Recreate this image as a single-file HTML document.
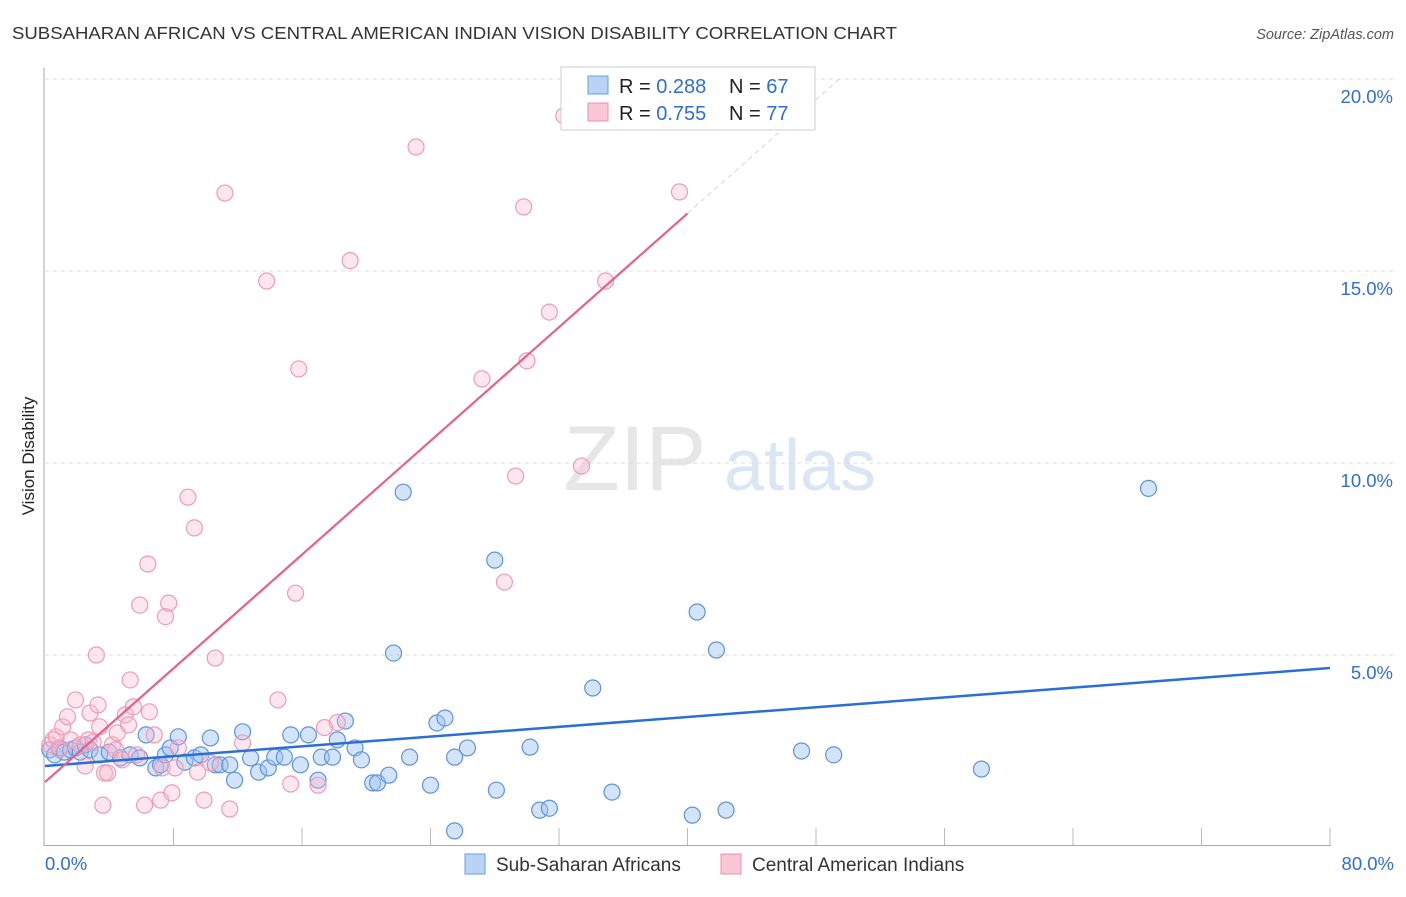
<!DOCTYPE html>
<html><head><meta charset="utf-8"><style>
body{margin:0;background:#fff;font-family:"Liberation Sans",sans-serif;}
svg text{font-family:"Liberation Sans",sans-serif;}
</style></head><body>
<svg id="chart" width="1406" height="892">
<text x="12" y="39" font-size="17.5" fill="#333" textLength="885" lengthAdjust="spacingAndGlyphs">SUBSAHARAN AFRICAN VS CENTRAL AMERICAN INDIAN VISION DISABILITY CORRELATION CHART</text>
<text x="1394" y="39" font-size="14.5" fill="#555" text-anchor="end" font-style="italic">Source: ZipAtlas.com</text>
<text x="34" y="456" font-size="17" fill="#222" text-anchor="middle" transform="rotate(-90 34 456)">Vision Disability</text>
<g><text x="635" y="490" font-size="92" fill="#e6e6e6" text-anchor="middle" font-family="Liberation Serif">ZIP</text><text x="800" y="490" font-size="72" fill="#dbe6f5" text-anchor="middle">atlas</text></g>
<g id="grid"></g><g id="axes"></g><g id="pts"></g><g id="lines"></g>
<g>
<rect x="561" y="67" width="254" height="63" fill="#fff" stroke="#ccc"/>
<rect x="588" y="76" width="20" height="18" fill="#b9d3f5" stroke="#6a9ee0"/>
<text x="619" y="93" font-size="20" fill="#222">R = <tspan fill="#2f6fd1">0.288</tspan></text>
<text x="729" y="93" font-size="20" fill="#222">N = <tspan fill="#2f6fd1">67</tspan></text>
<rect x="588" y="103" width="20" height="18" fill="#f9c6d6" stroke="#ec8fae"/>
<text x="619" y="120" font-size="20" fill="#222">R = <tspan fill="#2f6fd1">0.755</tspan></text>
<text x="729" y="120" font-size="20" fill="#222">N = <tspan fill="#2f6fd1">77</tspan></text>
</g>
<g>
<rect x="465" y="854" width="20" height="20" fill="#b9d3f5" stroke="#6a9ee0"/>
<text x="496" y="871" font-size="19" fill="#333">Sub-Saharan Africans</text>
<rect x="721" y="854" width="20" height="20" fill="#f9c6d6" stroke="#ec8fae"/>
<text x="752" y="871" font-size="19" fill="#333">Central American Indians</text>
</g>
</svg>
<script>
const yTicks=[5,10,15,20];
const xTickLabels=["0.0%","80.0%"];
const blueX=[0.3,0.6,0.9,1.2,1.6,1.9,2.2,2.5,2.8,3.4,4.0,4.7,5.3,5.9,6.3,6.9,7.2,7.5,7.8,8.3,8.7,9.3,9.7,10.3,10.6,10.9,11.5,11.8,12.3,12.8,13.3,13.9,14.3,14.9,15.3,15.9,16.4,17.0,17.2,17.9,18.2,18.7,19.3,19.7,20.4,20.7,21.4,21.7,22.3,22.7,24.0,24.4,24.9,25.5,25.5,26.3,28.0,28.1,30.2,30.8,31.4,34.1,35.3,40.3,40.6,41.8,42.4,47.1,49.1,58.3,68.7];
const blueY=[2.53,2.40,2.58,2.47,2.53,2.58,2.47,2.66,2.53,2.40,2.47,2.32,2.40,2.32,2.92,2.06,2.14,2.40,2.58,2.87,2.21,2.32,2.40,2.84,2.14,2.14,2.14,1.74,3.00,2.32,1.95,2.06,2.34,2.34,2.92,2.14,2.92,1.74,2.34,2.34,2.79,3.28,2.58,2.27,1.67,1.67,1.87,5.05,9.24,2.34,1.61,3.23,3.36,0.42,2.34,2.58,7.47,1.48,2.60,0.96,1.01,4.14,1.43,0.83,6.12,5.13,0.96,2.50,2.40,2.03,9.34];
const pinkX=[0.3,0.5,0.7,0.9,1.1,1.4,1.6,1.9,2.2,2.5,2.7,2.8,3.0,3.2,3.3,3.4,3.6,3.7,3.9,4.2,4.4,4.5,4.8,5.0,5.2,5.3,5.5,5.7,5.9,6.2,6.4,6.5,6.8,7.2,7.3,7.5,7.7,7.9,8.1,8.3,8.9,9.3,9.5,9.9,10.3,10.6,11.2,11.5,12.3,13.8,14.5,15.3,15.6,15.8,17.0,17.4,18.2,19.0,23.1,27.2,28.6,29.3,29.8,30.0,31.4,32.3,33.4,34.9,39.5];
const pinkY=[2.66,2.79,2.87,2.53,3.13,3.39,2.79,3.83,2.66,2.11,2.79,3.49,2.73,5.00,3.70,3.13,1.09,1.93,1.93,2.66,2.53,2.97,2.27,3.44,3.18,4.35,3.65,2.40,6.30,1.09,7.37,3.52,2.92,1.22,2.06,6.00,6.35,1.41,2.06,2.58,9.11,8.31,1.95,1.22,2.19,4.92,17.03,0.99,2.71,14.74,3.83,1.64,6.61,12.45,1.61,3.11,3.24,15.27,18.23,12.19,6.90,9.66,16.67,12.66,13.93,19.04,9.92,14.74,17.06];
const blueFit=[2.11,4.66];
const pinkFit=[1.69,16.5];
const X0=45,X1=1330,Y0=847,PPY=38.4;
const sx=v=>X0+v*(X1-X0)/80, sy=v=>Y0-v*PPY;
const NS="http://www.w3.org/2000/svg";
function mk(t,a,p){const e=document.createElementNS(NS,t);for(const k in a)e.setAttribute(k,a[k]);p.appendChild(e);return e;}
const grid=document.getElementById('grid'),axes=document.getElementById('axes'),pts=document.getElementById('pts'),lines=document.getElementById('lines');
yTicks.forEach(t=>{
 const l=mk('line',{x1:45,x2:1394,y1:sy(t),y2:sy(t),stroke:'#ddd','stroke-dasharray':'4,4'},grid);
 
 
 const tx=mk('text',{x:1393,y:sy(t)+24,'font-size':18.5,fill:'#2f6fd1','text-anchor':'end'},axes);
 tx.textContent=t.toFixed(1)+'%';
 
 
});
const ya=mk('line',{x1:44,x2:44,y1:68,y2:846,stroke:'#aaa'},axes);


const xa=mk('line',{x1:44,x2:1331,y1:845.5,y2:845.5,stroke:'#aaa'},axes);


for(let i=1;i<=10;i++){const l=mk('line',{x1:sx(i*8),x2:sx(i*8),y1:828,y2:845,stroke:'#bbb'},axes);
 
 }
[[0,'start',45],[80,'end',1394]].forEach((d,i)=>{const t=mk('text',{x:d[2],y:870,'font-size':18.5,fill:'#2f6fd1','text-anchor':d[1]},axes);t.textContent=xTickLabels[i];
 
 });
blueX.forEach((x,i)=>{const c=mk('circle',{cx:sx(x),cy:sy(blueY[i]),r:8,fill:'rgba(160,196,240,0.45)',stroke:'#5c93dd','stroke-width':1.2},pts);
 
 });
pinkX.forEach((x,i)=>{const c=mk('circle',{cx:sx(x),cy:sy(pinkY[i]),r:8,fill:'rgba(248,184,204,0.35)',stroke:'#ef9bb7','stroke-width':1.2},pts);
 
 });
const bl=mk('line',{x1:sx(0),y1:sy(blueFit[0]),x2:sx(80),y2:sy(blueFit[1]),stroke:'#2a6fd6','stroke-width':2.5},lines);


const slope=(pinkFit[1]-pinkFit[0])/40;
const pl=mk('line',{x1:sx(0),y1:sy(pinkFit[0]),x2:sx(40),y2:sy(pinkFit[1]),stroke:'#e8608c','stroke-width':2.2},lines);


const xe=(20-pinkFit[0])/slope;
const pd=mk('line',{x1:sx(40),y1:sy(pinkFit[1]),x2:sx(xe),y2:sy(20),stroke:'#ddd','stroke-width':1.2,'stroke-dasharray':'5,4'},lines);


</script>
</body></html>
